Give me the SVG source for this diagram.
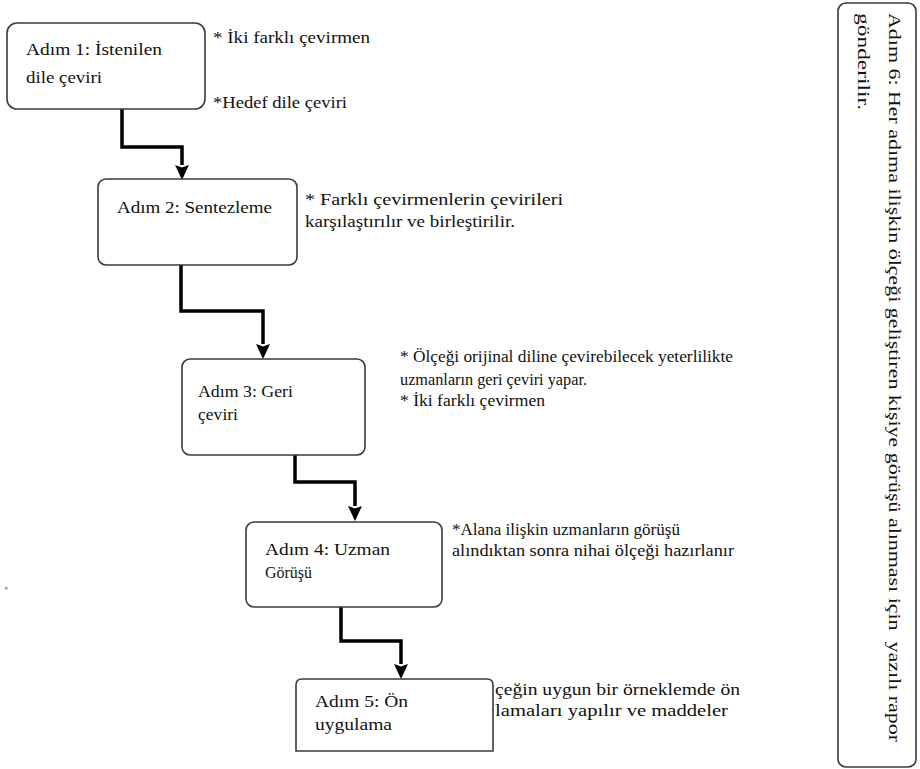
<svg xmlns="http://www.w3.org/2000/svg" width="920" height="769" viewBox="0 0 920 769">
<style>
.box{fill:#fff;stroke:#3a3a3a;stroke-width:1.6}
text{font-family:'Liberation Serif','Times New Roman',Tinos,serif;font-size:16px;fill:#111}
.con{fill:none;stroke:#000;stroke-width:3.5;stroke-linejoin:miter}
</style>
<defs>
<marker id="arr" markerUnits="userSpaceOnUse" viewBox="0 0 15 15" refX="0" refY="7.5" markerWidth="15" markerHeight="15" orient="auto">
<path d="M0,0.5 L15,7.5 L0,14.5 L2.5,7.5 z" fill="#000"/>
</marker>
</defs>
<rect width="920" height="769" fill="#fff"/>
<rect x="5" y="587" width="2.5" height="2.5" fill="#5ab0e6"/>

<g id="annotations">
<text x="213" y="43" textLength="157" lengthAdjust="spacingAndGlyphs">* İki farklı çevirmen</text>
<text x="213" y="108" textLength="134" lengthAdjust="spacingAndGlyphs">*Hedef dile çeviri</text>
<text x="305" y="205" textLength="258" lengthAdjust="spacingAndGlyphs">* Farklı çevirmenlerin çevirileri</text>
<text x="305" y="227" textLength="210" lengthAdjust="spacingAndGlyphs">karşılaştırılır ve birleştirilir.</text>
<text x="400" y="362" textLength="333" lengthAdjust="spacingAndGlyphs">* Ölçeği orijinal diline çevirebilecek yeterlilikte</text>
<text x="400" y="385" textLength="187" lengthAdjust="spacingAndGlyphs">uzmanların geri çeviri yapar.</text>
<text x="400" y="406" textLength="145" lengthAdjust="spacingAndGlyphs">* İki farklı çevirmen</text>
<text x="452" y="535" textLength="228" lengthAdjust="spacingAndGlyphs">*Alana ilişkin uzmanların görüşü</text>
<text x="452" y="556" textLength="282" lengthAdjust="spacingAndGlyphs">alındıktan sonra nihai ölçeği hazırlanır</text>
<text x="495" y="695" textLength="245" lengthAdjust="spacingAndGlyphs">çeğin uygun bir örneklemde ön</text>
<text x="495" y="716" textLength="233" lengthAdjust="spacingAndGlyphs">lamaları yapılır ve maddeler</text>
</g>

<g id="connectors">
<polyline class="con" points="122,109 122,147 182,147 182,165" marker-end="url(#arr)"/>
<polyline class="con" points="181,265 181,311 263,311 263,344" marker-end="url(#arr)"/>
<polyline class="con" points="295,455 295,482 355,482 355,506" marker-end="url(#arr)"/>
<polyline class="con" points="341,607 341,641 401,641 401,664" marker-end="url(#arr)"/>
</g>

<g id="node1">
<rect class="box" x="7" y="23" width="198" height="86" rx="10"/>
<text x="26" y="55" textLength="136" lengthAdjust="spacingAndGlyphs">Adım 1: İstenilen</text>
<text x="26" y="83" textLength="76" lengthAdjust="spacingAndGlyphs">dile çeviri</text>
</g>
<g id="node2">
<rect class="box" x="98" y="179" width="199" height="86" rx="8"/>
<text x="117" y="213" textLength="155" lengthAdjust="spacingAndGlyphs">Adım 2: Sentezleme</text>
</g>
<g id="node3">
<rect class="box" x="182" y="359" width="183" height="96" rx="8"/>
<text x="198" y="397" textLength="95" lengthAdjust="spacingAndGlyphs">Adım 3: Geri</text>
<text x="198" y="420" textLength="40" lengthAdjust="spacingAndGlyphs">çeviri</text>
</g>
<g id="node4">
<rect class="box" x="246" y="522" width="196" height="85" rx="8"/>
<text x="265" y="555" textLength="125" lengthAdjust="spacingAndGlyphs">Adım 4: Uzman</text>
<text x="265" y="578" textLength="47" lengthAdjust="spacingAndGlyphs">Görüşü</text>
</g>
<g id="node5">
<path class="box" d="M296,751 L296,685 Q296,679 302,679 L487,679 Q493,679 493,685 L493,751 Z"/>
<text x="315" y="707" textLength="93" lengthAdjust="spacingAndGlyphs">Adım 5: Ön</text>
<text x="315" y="730" textLength="77" lengthAdjust="spacingAndGlyphs">uygulama</text>
</g>
<g id="node6">
<rect class="box" x="838" y="3" width="78" height="764" rx="8"/>
<text transform="translate(889,13) rotate(90)" textLength="729" lengthAdjust="spacingAndGlyphs" xml:space="preserve">Adım 6: Her adıma ilişkin ölçeği geliştiren kişiye görüşü alınması için  yazılı rapor</text>
<text transform="translate(858,13) rotate(90)" textLength="97" lengthAdjust="spacingAndGlyphs">gönderilir.</text>
</g>
</svg>
